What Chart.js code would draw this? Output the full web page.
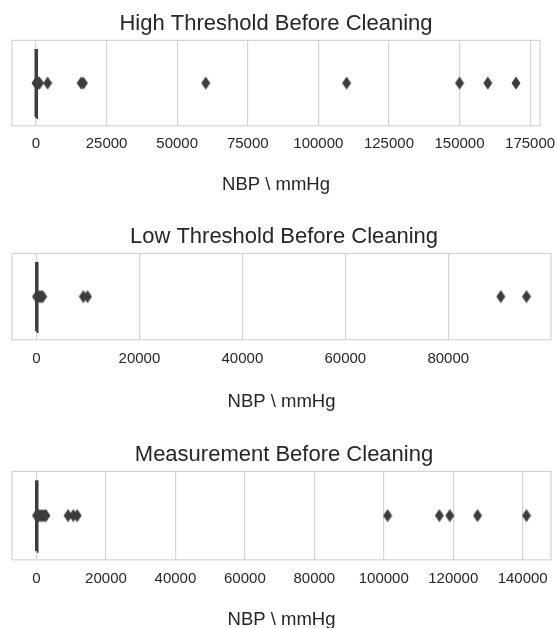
<!DOCTYPE html>
<html>
<head>
<meta charset="utf-8">
<script src="https://cdn.jsdelivr.net/npm/chart.js@4/dist/chart.umd.min.js"></script>
<style>
  html, body { margin: 0; padding: 0; background: #fff; }
  #wrap { position: relative; width: 557px; height: 628px; overflow: hidden; }
  canvas { position: absolute; left: 0; }
</style>
</head>
<body>
<div id="wrap">
  <canvas id="c0" width="557" height="196"></canvas>
  <canvas id="c1" width="557" height="200"></canvas>
  <canvas id="c2" width="557" height="202"></canvas>
</div>
<script>
// --- data ---
const titles = ['High Threshold Before Cleaning', 'Low Threshold Before Cleaning', 'Measurement Before Cleaning'];
const axisLabel = 'NBP \\ mmHg';

// box: [q1, median, q3]  (the box is so narrow that it shows as a line)
const highBox = [60, 90, 120];
const lowBox = [40, 60, 80];
const measBox = [50, 80, 110];

const highOutliers = [0, 300, 600, 900, 1200, 4100, 16000, 16800, 60100, 110000, 150000, 160000, 170000];
const lowOutliers = [0, 300, 600, 900, 1200, 9100, 9900, 90200, 95200];
const measOutliers = [0, 400, 800, 1300, 1800, 2300, 2700, 9100, 10600, 11700, 101100, 116000, 119000, 127000, 141100];

const highTicks = [0, 25000, 50000, 75000, 100000, 125000, 150000, 175000];
const lowTicks = [0, 20000, 40000, 60000, 80000];
const measTicks = [0, 20000, 40000, 60000, 80000, 100000, 120000, 140000];

// --- layout ---
const tops = [0, 213, 431];
const padRight = [17, 1, 1];
const tickPad = [9, 10, 10];
const labelGap = [12, 13, 11];
const labelBottom = [0, 0, 2];

const ink = '#3d3d3d';
const txt = '#262626';
const gridCol = '#d4d4d4';
const FONT = "'Liberation Sans', Arial, sans-serif";

// thin diamond marker like seaborn's 'd'
function diamond() {
  const c = document.createElement('canvas');
  c.width = 10; c.height = 14;
  const g = c.getContext('2d');
  g.fillStyle = ink;
  g.beginPath();
  g.moveTo(5, 0.5); g.lineTo(9.5, 7); g.lineTo(5, 13.5); g.lineTo(0.5, 7);
  g.closePath(); g.fill();
  return c;
}
const marker = diamond();

const frame = {
  id: 'frame',
  beforeDatasetsDraw(chart) {
    const a = chart.chartArea, ctx = chart.ctx;
    ctx.save();
    ctx.strokeStyle = gridCol;
    ctx.lineWidth = 1.2;
    ctx.strokeRect(a.left, a.top, a.right - a.left, a.bottom - a.top);
    ctx.restore();
  }
};

function makePanel(i, box, outliers, ticks) {
  const cv = document.getElementById('c' + i);
  cv.style.top = tops[i] + 'px';
  const lo = Math.min(...outliers, box[0]);
  const hi = Math.max(...outliers, box[2]);
  const m = (hi - lo) * 0.05;

  new Chart(cv.getContext('2d'), {
    type: 'scatter',
    data: {
      datasets: [
        {
          type: 'line',
          data: [
            { x: box[0], y: -0.4 }, { x: box[0], y: 0.4 }, { x: box[2], y: 0.4 },
            { x: box[2], y: -0.4 }, { x: box[0], y: -0.4 }
          ],
          borderColor: ink, borderWidth: 3.5, pointRadius: 0, fill: false
        },
        {
          data: outliers.map(v => ({ x: v, y: 0 })),
          pointStyle: marker, pointRadius: 5
        }
      ]
    },
    options: {
      responsive: false,
      animation: false,
      layout: { padding: { left: 12, right: padRight[i], top: 0, bottom: 0 } },
      plugins: {
        legend: { display: false },
        tooltip: { enabled: false },
        title: {
          display: true, text: titles[i], color: txt,
          font: { family: FONT, size: 22, weight: 'normal' },
          padding: { top: 11, bottom: 3 }
        }
      },
      scales: {
        x: {
          type: 'linear', min: lo - m, max: hi + m,
          afterBuildTicks: s => { s.ticks = ticks.map(v => ({ value: v })); },
          afterFit: s => { s.paddingLeft = 0; s.paddingRight = 0; },
          grid: { color: gridCol, lineWidth: 1.2, drawTicks: false },
          border: { display: false },
          ticks: { color: txt, padding: tickPad[i], font: { family: FONT, size: 15 }, callback: v => String(v) },
          title: {
            display: true, text: axisLabel, color: txt,
            font: { family: FONT, size: 18.5 },
            padding: { top: labelGap[i], bottom: labelBottom[i] }
          }
        },
        y: { display: false, min: -0.5, max: 0.5 }
      }
    },
    plugins: [frame]
  });
}

makePanel(0, highBox, highOutliers, highTicks);
makePanel(1, lowBox, lowOutliers, lowTicks);
makePanel(2, measBox, measOutliers, measTicks);
</script>
</body>
</html>
